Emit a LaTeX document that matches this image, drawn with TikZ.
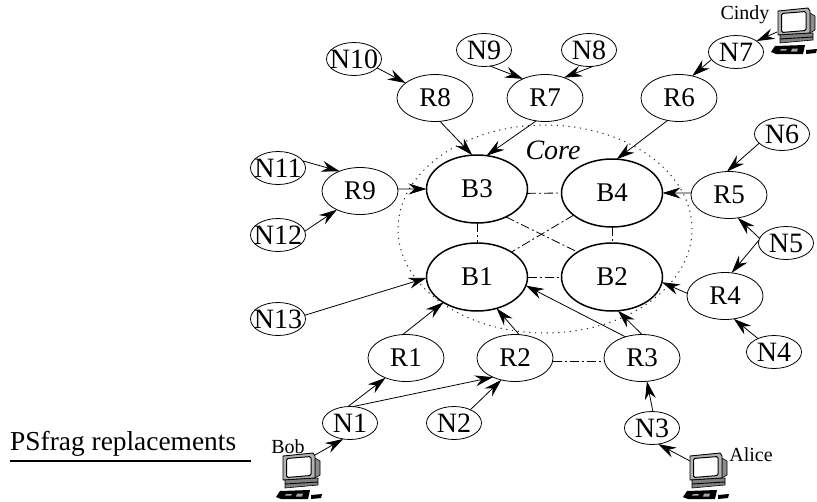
\documentclass[tikz,border=0pt]{standalone}
\usepackage{fontspec}
\setmainfont{Liberation Serif}
\usetikzlibrary{shapes.geometric,arrows.meta}
\newcommand\tn[1]{\makebox[0pt]{#1}}
\tikzset{
  base/.style={ellipse,draw=black,inner sep=0pt,outer sep=0pt,line width=0.8pt,font=\fontsize{27}{27}\selectfont},
  nnode/.style={base,minimum width=55pt,minimum height=33pt,font=\fontsize{28}{28}\selectfont},
  rnode/.style={base,minimum width=76pt,minimum height=47pt},
  bnode/.style={base,minimum width=101pt,minimum height=68pt,line width=1.5pt},
  arr/.style={line width=0.8pt,-{Stealth[length=18pt,width=11pt,inset=6pt]}},
  dd/.style={line width=0.8pt,dash pattern=on 9pt off 3pt on 2pt off 3pt},
  corering/.style={ellipse,draw=black!85,line width=1pt,dash pattern=on 1.2pt off 4.6pt,minimum width=294pt,minimum height=208pt,inner sep=0pt},
  lab/.style={inner sep=0pt,font=\fontsize{20}{20}\selectfont},
  computer/.pic={
    \fill[black!45,draw=black,line width=0.6pt] (32,5) -- (37,8) -- (37,22) -- (32,25) -- cycle;
    \fill[black!30,draw=black,line width=0.9pt] (0,3) -- (30,0) -- (32,3) -- (32,25) -- (0,27) -- cycle;
    \fill[white,draw=black,line width=1pt,rounded corners=1.5pt] (3.5,5.5) -- (28,3.5) -- (28,22.5) -- (3.5,24.5) -- cycle;
    \fill[black!50,draw=black,line width=0.6pt] (2,27) -- (35,25) -- (35,32) -- (2,35) -- cycle;
    \draw[black,line width=0.9pt] (2,31) -- (35,29);
    \fill[black] (-7,44) -- (-3,38) -- (27,37) -- (25,46) -- (-2,46) -- cycle;
    \fill[black!35] (3,41) -- (9,41) -- (8,42.5) -- (2,42.5) -- cycle;
    \fill[black!35] (14,40.5) -- (20,40.5) -- (19,43.5) -- (13,43.5) -- cycle;
    \fill[black] (28,42) -- (39,41) -- (38,45) -- (28,46) -- cycle;
  },
}
\begin{document}
\begin{tikzpicture}[x=1pt,y=-1pt]
\useasboundingbox (0,0) rectangle (817,501);
% core
\node[corering] (core) at (545,229) {};
\node[inner sep=0pt,font=\fontsize{28}{28}\selectfont\itshape] (corelab) at (553,150) {Core};
% backbone
\node[bnode] (B3) at (477,189) {B3};
\node[bnode] (B4) at (612,193) {B4};
\node[bnode] (B1) at (477,277) {B1};
\node[bnode] (B2) at (612,277) {B2};
% routers
\node[rnode] (R1) at (406,358) {R1};
\node[rnode] (R2) at (515,358) {R2};
\node[rnode] (R3) at (642,358) {R3};
\node[rnode] (R4) at (725,296) {R4};
\node[rnode] (R5) at (729,195) {R5};
\node[rnode] (R6) at (679,98) {R6};
\node[rnode] (R7) at (545,98) {R7};
\node[rnode] (R8) at (435,98) {R8};
\node[rnode] (R9) at (360,191) {R9};
% hosts
\node[nnode] (N1) at (350,423) {\tn{N1}};
\node[nnode] (N2) at (454,423) {\tn{N2}};
\node[nnode] (N3) at (652,428) {\tn{N3}};
\node[nnode] (N4) at (774,352) {\tn{N4}};
\node[nnode] (N5) at (786,243) {\tn{N5}};
\node[nnode] (N6) at (782,134) {\tn{N6}};
\node[nnode] (N7) at (736,52) {\tn{N7}};
\node[nnode] (N8) at (589,50) {\tn{N8}};
\node[nnode] (N9) at (484,50) {\tn{N9}};
\node[nnode] (N10) at (354,59) {\tn{N10}};
\node[nnode] (N11) at (278,168) {\tn{N11}};
\node[nnode] (N12) at (278,235) {\tn{N12}};
\node[nnode] (N13) at (278,319) {\tn{N13}};
% computers
\pic at (283,453) {computer};
\pic at (690,453) {computer};
\pic at (778,8) {computer};
\coordinate (bob) at (315,455);
\coordinate (alice) at (690,461);
\coordinate (cindy) at (777,32);
\node[lab] (boblab) at (288,447) {Bob};
\node[lab] (alicelab) at (751,455) {Alice};
\node[lab] (cindylab) at (745,15) {Cindy};
% legend
\node[inner sep=0pt,anchor=base west,font=\fontsize{27.4}{27.4}\selectfont] (psf) at (10,450) {PSfrag replacements};
\coordinate (ruleL) at (10,461);
\coordinate (ruleR) at (251,461);
\draw[line width=2.2pt] (ruleL) -- (ruleR);
% dash-dot links
\draw[dd] (B3.-5) -- (B4.180);
\draw[dd] (B1.0) -- (B2.180);
\draw[dd] (B3.-90) -- (B1.90);
\draw[dd] (B4.-90) -- (B2.90);
\draw[dd] (B3.-44) -- (B2.144);
\draw[dd] (B4.210) -- (B1.36);
\draw[dd] (R2.-5) -- (R3.185);
% arrows
\draw[arr] (N10.-21) -- (R8.153);
\draw[arr] (R8.-78) -- (B3.98);
\draw[arr] (N11.16) -- (R9.136);
\draw[arr] (R9.3) -- (B3.180);
\draw[arr] (N12.8) -- (R9.219);
\draw[arr] (N13.8) -- (B1.181);
\draw[arr] (N9.-69) -- (R7.139);
\draw[arr] (N8.-76) -- (R7.47);
\draw[arr] (R7.249) -- (B3.74);
\draw[arr] (R6.243) -- (B4.82);
\draw[arr] (N7.197) -- (R6.59);
\draw[arr] (cindy) -- (N7.28);
\draw[arr] (N6.202) -- (R5.95);
\draw[arr] (R5.177) -- (B4.0);
\draw[arr] (N5.170) -- (R5.-69);
\draw[arr] (N5.174) -- (R4.74);
\draw[arr] (R4.176) -- (B2.-6);
\draw[arr] (N4.140) -- (R4.-69);
\draw[arr] (R3.90) -- (B2.-80);
\draw[arr] (R3.128) -- (B1.-10);
\draw[arr] (N3.87) -- (R3.-78);
\draw[arr] (alice) -- (N3.-69);
\draw[arr] (R2.80) -- (B1.-58);
\draw[arr] (R1.98) -- (B1.217);
\draw[arr] (N1.97) -- (R1.224);
\draw[arr] (N1.80) -- (R2.221);
\draw[arr] (N2.39) -- (R2.238);
\draw[arr] (bob) -- (N1.247);
\end{tikzpicture}
\end{document}
